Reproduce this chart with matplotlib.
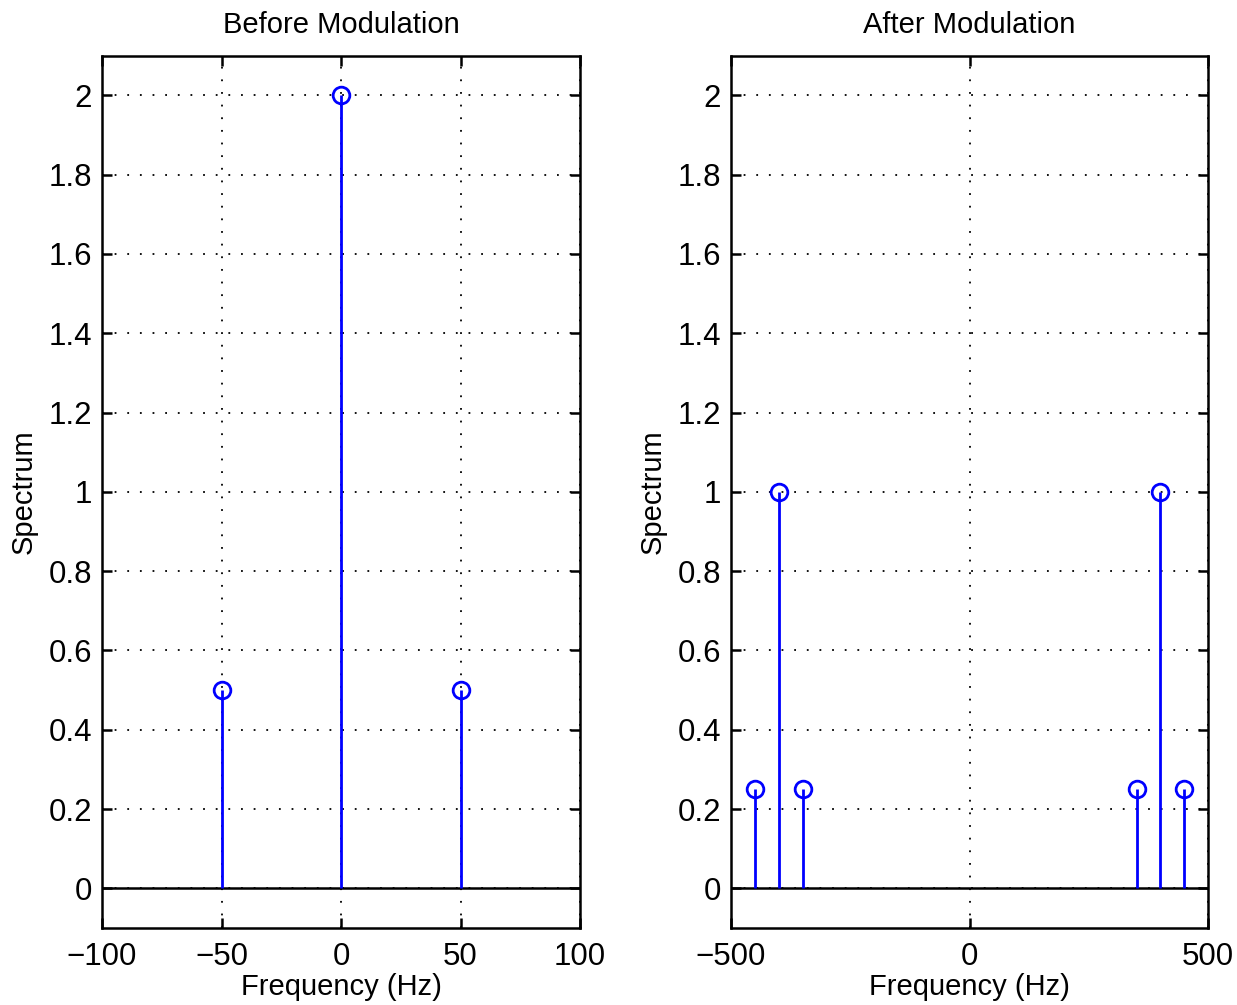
import matplotlib
matplotlib.use('Agg')
import matplotlib.pyplot as plt
import numpy as np

# Spectrum values
freq_before = [-50, 0, 50]
spec_before = [0.5, 2.0, 0.5]
freq_after = [-450, -400, -350, 350, 400, 450]
spec_after = [0.25, 1.0, 0.25, 0.25, 1.0, 0.25]

yticks = [0, 0.2, 0.4, 0.6, 0.8, 1, 1.2, 1.4, 1.6, 1.8, 2]
ytick_labels = ['0', '0.2', '0.4', '0.6', '0.8', '1', '1.2', '1.4', '1.6', '1.8', '2']

plt.rcParams['font.family'] = ['Liberation Sans', 'DejaVu Sans']
plt.rcParams['axes.unicode_minus'] = True

fig = plt.figure(figsize=(12.37, 10.05), dpi=100)
ax1 = fig.add_axes([0.0825, 0.0766, 0.3864, 0.868])
ax2 = fig.add_axes([0.591, 0.0766, 0.3856, 0.868])


def draw_panel(ax, f, s, xlim, xticks, title):
    ax.axhline(0, color='black', lw=1.8, zorder=2)
    ax.vlines(f, 0, s, color='#0000ff', lw=2, zorder=3)
    ax.plot(f, s, 'o', mfc='none', mec='#0000ff', ms=12, mew=2, zorder=4)
    ax.set_xlim(xlim)
    ax.set_ylim(-0.1, 2.1)
    ax.set_xticks(xticks)
    ax.set_xticklabels([str(x).replace('-', '\u2212') for x in xticks])
    ax.set_yticks(yticks)
    ax.set_yticklabels(ytick_labels)
    ax.grid(True, color='black', linestyle=(0, (1, 6)), lw=1.3)
    ax.tick_params(direction='in', top=True, right=True, length=7, width=1.8,
                   labelsize=22.5, pad=7)
    ax.tick_params(axis='x', pad=10)
    for sp in ax.spines.values():
        sp.set_linewidth(1.8)
    ax.set_title(title, fontsize=21, pad=16)
    ax.set_xlabel('Frequency (Hz)', fontsize=21, labelpad=1)
    ax.set_ylabel('Spectrum', fontsize=21, labelpad=8)


draw_panel(ax1, freq_before, spec_before, (-100, 100), [-100, -50, 0, 50, 100], 'Before Modulation')
draw_panel(ax2, freq_after, spec_after, (-500, 500), [-500, 0, 500], 'After Modulation')

fig.savefig('out.png', dpi=100)
